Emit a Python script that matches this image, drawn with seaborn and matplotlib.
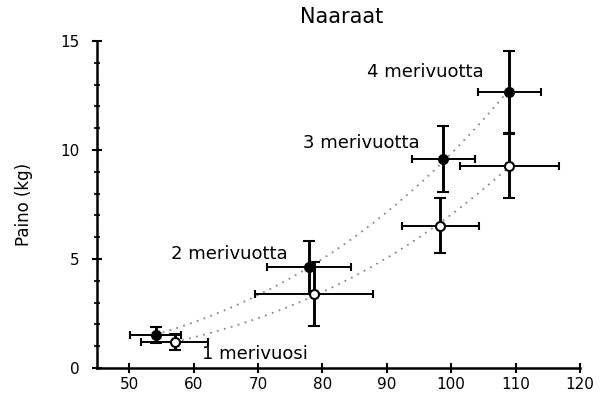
import numpy as np
import pandas as pd
import matplotlib
matplotlib.use("Agg")
import matplotlib.pyplot as plt
import seaborn as sns

# ---- data ----
years = ["1 merivuosi", "2 merivuotta", "3 merivuotta", "4 merivuotta"]
filled_x = [54.1, 77.9, 98.8, 109.0]
filled_y = [1.53, 4.62, 9.59, 12.65]
filled_xerr = [4.0, 6.5, 4.9, 4.9]
filled_yerr = [0.37, 1.22, 1.52, 1.88]

open_x = [57.1, 78.7, 98.3, 109.0]
open_y = [1.19, 3.40, 6.53, 9.27]
open_xerr = [5.2, 9.1, 6.0, 7.7]
open_yerr = [0.36, 1.47, 1.26, 1.48]

label_x = [69.6, 65.6, 86.1, 96.0]
label_y = [0.62, 5.25, 10.3, 13.6]

title = "Naaraat"
ylabel = "Paino (kg)"
xticks = [50, 60, 70, 80, 90, 100, 110, 120]
yticks = [0, 5, 10, 15]

sns.set_style("ticks")
plt.rcParams["font.family"] = ["DejaVu Sans"]
plt.rcParams["text.color"] = "black"
plt.rcParams["axes.labelcolor"] = "black"

fig = plt.figure(figsize=(6.11, 4.0), dpi=100)
ax = fig.add_axes([97 / 611, 32 / 400, 483 / 611, 327 / 400])


def power_fit(xs, ys):
    b, ln_a = np.polyfit(np.log(xs), np.log(ys), 1)
    xx = np.linspace(min(xs), max(xs), 100)
    return pd.DataFrame({"x": xx, "y": np.exp(ln_a) * xx ** b})


for xs, ys in [(filled_x, filled_y), (open_x, open_y)]:
    fit = power_fit(xs, ys)
    sns.lineplot(data=fit, x="x", y="y", ax=ax, color="#888888",
                 linestyle=(0, (1, 3)), linewidth=1.3, zorder=1)

for xs, ys, xe, ye in [(filled_x, filled_y, filled_xerr, filled_yerr),
                       (open_x, open_y, open_xerr, open_yerr)]:
    ax.errorbar(xs, ys, xerr=xe, fmt="none", ecolor="black", elinewidth=1.4,
                capsize=3, capthick=1.5, zorder=2)
    ax.errorbar(xs, ys, yerr=ye, fmt="none", ecolor="black", elinewidth=2.1,
                capsize=4.5, capthick=1.5, zorder=2)

df_f = pd.DataFrame({"x": filled_x, "y": filled_y})
df_o = pd.DataFrame({"x": open_x, "y": open_y})
sns.scatterplot(data=df_f, x="x", y="y", ax=ax, color="black", s=48,
                edgecolor="black", linewidth=1.0, zorder=3)
sns.scatterplot(data=df_o, x="x", y="y", ax=ax, color="white", s=42,
                edgecolor="black", linewidth=1.5, zorder=3)

for t, lx, ly in zip(years, label_x, label_y):
    ax.text(lx, ly, t, ha="center", va="center", fontsize=13, color="black",
            zorder=4)

ax.set_xlim(45, 120)
ax.set_ylim(0, 15)
ax.set_xticks(xticks)
ax.set_yticks(yticks)
ax.set_yticks(np.arange(0, 16, 1), minor=True)
ax.tick_params(axis="both", which="major", direction="inout", length=7,
               width=1.5, labelsize=11, colors="black")
ax.tick_params(axis="x", pad=3)
ax.tick_params(axis="y", pad=9)
ax.tick_params(axis="y", which="minor", direction="inout", length=5,
               width=1.5)
sns.despine(ax=ax)
for s in ["left", "bottom"]:
    ax.spines[s].set_linewidth(1.8)
    ax.spines[s].set_color("black")
ax.set_xlabel("")
ax.set_ylabel(ylabel, fontsize=12, labelpad=20, color="black")
fig.text(342 / 611, 1 - 17 / 400, title, ha="center", va="center",
         fontsize=15, color="black")

fig.savefig("out.png", dpi=100)
